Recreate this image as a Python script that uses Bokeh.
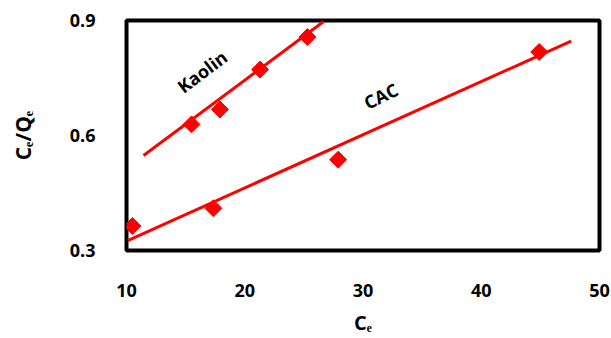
import numpy as np
from bokeh.plotting import figure
from bokeh.models import FixedTicker, Label
from bokeh.embed import file_html
from bokeh.resources import INLINE

# data
kaolin_x = [15.5, 17.9, 21.3, 25.3]
kaolin_y = [0.629, 0.668, 0.772, 0.857]
cac_x = [10.5, 17.35, 27.9, 44.9]
cac_y = [0.364, 0.410, 0.537, 0.818]

# trend line end points
kaolin_trend_x = [11.44, 26.7]
kaolin_trend_y = [0.548, 0.898]
cac_trend_x = [10.1, 47.6]
cac_trend_y = [0.326, 0.846]

x_ticks = [10, 20, 30, 40, 50]
y_ticks = [0.3, 0.6, 0.9]

FONT = "Open Sans"
RED = "#FF0000"

p = figure(width=611, height=338, x_range=(10, 50), y_range=(0.3, 0.9),
           output_backend="svg", toolbar_location=None,
           min_border_left=126, min_border_right=12, min_border_top=20,
           min_border_bottom=83)

p.xgrid.visible = False
p.ygrid.visible = False
p.outline_line_color = "black"
p.outline_line_width = 4
p.background_fill_color = "white"
p.border_fill_color = "white"

for ax in (p.xaxis[0], p.yaxis[0]):
    ax.axis_line_color = None
    ax.major_tick_line_color = None
    ax.minor_tick_line_color = None
    ax.major_label_text_font = FONT
    ax.major_label_text_font_style = "bold"
    ax.major_label_text_font_size = "18px"
    ax.major_label_text_color = "black"
    ax.axis_label_text_font = FONT
    ax.axis_label_text_font_style = "bold"
    ax.axis_label_text_color = "black"

p.xaxis.ticker = FixedTicker(ticks=x_ticks)
p.yaxis.ticker = FixedTicker(ticks=y_ticks)
p.yaxis.formatter.use_scientific = False
p.xaxis.major_label_standoff = 27
p.yaxis.major_label_standoff = 25
p.xaxis.axis_label = "Cₑ"
p.xaxis.axis_label_text_font_size = "20px"
p.xaxis.axis_label_standoff = 9
p.yaxis.axis_label = "Cₑ/Qₑ"
p.yaxis.axis_label_text_font_size = "21px"
p.yaxis.axis_label_standoff = 30

p.line(kaolin_trend_x, kaolin_trend_y, line_color=RED, line_width=3)
p.line(cac_trend_x, cac_trend_y, line_color=RED, line_width=3)
p.scatter(kaolin_x, kaolin_y, marker="square", size=12, angle=np.pi / 4,
          fill_color=RED, line_color=RED)
p.scatter(cac_x, cac_y, marker="square", size=12, angle=np.pi / 4,
          fill_color=RED, line_color=RED)

p.add_layout(Label(x=16.4, y=0.767, text="Kaolin", angle=37, angle_units="deg",
                   text_align="center", text_baseline="middle", text_color="black",
                   text_font=FONT, text_font_style="bold", text_font_size="18px"))
p.add_layout(Label(x=31.5, y=0.703, text="CAC", angle=26, angle_units="deg",
                   text_align="center", text_baseline="middle", text_color="black",
                   text_font=FONT, text_font_style="bold", text_font_size="18px"))

open("out.html", "w").write(file_html(p, INLINE))
